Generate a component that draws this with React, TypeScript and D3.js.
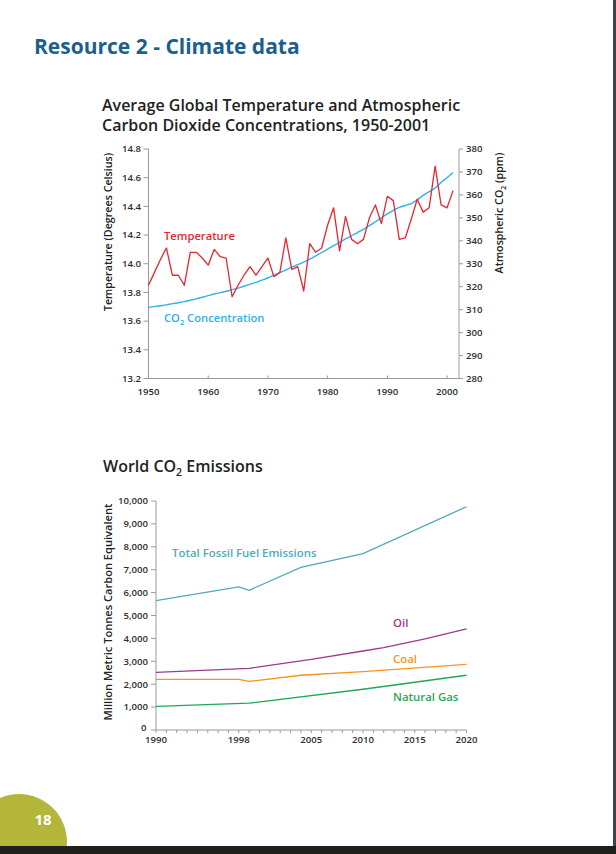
import React from 'react';
import * as d3 from 'd3';

// ---------- Data: chart 1 ----------
const YEARS = [
  1950, 1951, 1952, 1953, 1954, 1955, 1956, 1957, 1958, 1959,
  1960, 1961, 1962, 1963, 1964, 1965, 1966, 1967, 1968, 1969,
  1970, 1971, 1972, 1973, 1974, 1975, 1976, 1977, 1978, 1979,
  1980, 1981, 1982, 1983, 1984, 1985, 1986, 1987, 1988, 1989,
  1990, 1991, 1992, 1993, 1994, 1995, 1996, 1997, 1998, 1999,
  2000, 2001,
];
const TEMPERATURE = [
  13.85, 13.94, 14.03, 14.11, 13.92, 13.92, 13.85, 14.08, 14.08, 14.04,
  13.99, 14.10, 14.05, 14.04, 13.77, 13.85, 13.92, 13.98, 13.92, 13.98,
  14.04, 13.91, 13.94, 14.18, 13.96, 13.98, 13.81, 14.14, 14.08, 14.11,
  14.27, 14.39, 14.09, 14.33, 14.17, 14.14, 14.17, 14.32, 14.41, 14.28,
  14.47, 14.44, 14.17, 14.18, 14.31, 14.45, 14.36, 14.39, 14.68, 14.41,
  14.39, 14.51,
];
const CO2 = [
  311.0, 311.3, 311.7, 312.1, 312.6, 313.0, 313.5, 314.1, 314.7, 315.4,
  316.1, 316.8, 317.4, 318.0, 318.7, 319.4, 320.2, 321.0, 321.9, 322.9,
  323.9, 325.0, 326.1, 327.3, 328.5, 329.6, 330.7, 332.0, 333.4, 334.9,
  336.4, 337.9, 339.3, 340.8, 342.2, 343.6, 345.0, 346.6, 348.3, 350.0,
  351.7, 353.3, 354.6, 355.4, 356.2, 357.8, 359.8, 361.4, 363.0, 365.4,
  367.5, 369.8,
];
const TEMP_TICKS = [13.2, 13.4, 13.6, 13.8, 14.0, 14.2, 14.4, 14.6, 14.8];
const CO2_TICKS = [280, 290, 300, 310, 320, 330, 340, 350, 360, 370, 380];
const TOP_X_TICKS = [1950, 1960, 1970, 1980, 1990, 2000];

// ---------- Data: chart 2 ----------
const TOTAL_YEARS = [1990, 1998, 1999, 2004, 2010, 2020];
const TOTAL_VALUES = [5650, 6250, 6100, 7100, 7700, 9750];
const OIL_YEARS = [1990, 1999, 2005, 2010, 2012, 2016, 2020];
const OIL_VALUES = [2520, 2690, 3080, 3450, 3600, 3980, 4420];
const COAL_YEARS = [1990, 1998, 1999, 2004, 2010, 2020];
const COAL_VALUES = [2210, 2210, 2120, 2390, 2550, 2870];
const GAS_YEARS = [1990, 1999, 2010, 2020];
const GAS_VALUES = [1030, 1170, 1780, 2390];
const EMISSION_TICKS = [0, 1000, 2000, 3000, 4000, 5000, 6000, 7000, 8000, 9000, 10000];
const BOTTOM_X_TICKS = [1990, 1998, 2005, 2010, 2015, 2020];
const BOTTOM_MINOR_TICKS = [
  1990, 1991, 1992, 1993, 1994, 1995, 1996, 1997, 1998, 1999,
  2000, 2001, 2002, 2003, 2004, 2005, 2006, 2007, 2008, 2009,
  2010, 2011, 2012, 2013, 2014, 2015, 2016, 2017, 2018, 2019, 2020,
];

const FONT = "'Open Sans', 'DejaVu Sans', sans-serif";
const AXIS = '#9a9a9a';
const TICK_TEXT = '#2e2e2e';

export default function App() {
  // chart 1 scales
  const x1 = d3.scaleLinear().domain([1950, 2002]).range([148.5, 459]);
  const yT = d3.scaleLinear().domain([13.2, 14.8]).range([378.5, 149]);
  const yC = d3.scaleLinear().domain([280, 380]).range([378.5, 149]);

  const tempLine = d3
    .line<number>()
    .x((_, i) => x1(YEARS[i]))
    .y((d) => yT(d));
  const co2Line = d3
    .line<number>()
    .x((_, i) => x1(YEARS[i]))
    .y((d) => yC(d))
    .curve(d3.curveMonotoneX);

  // chart 2 scales
  const x2 = d3.scaleLinear().domain([1990, 2020]).range([156, 466.5]);
  const y2 = d3.scaleLinear().domain([0, 10000]).range([730, 501]);
  const mk = (years: number[]) =>
    d3
      .line<number>()
      .x((_, i) => x2(years[i]))
      .y((d) => y2(d));

  const fmt = d3.format(',');

  return (
    <svg
      width={616}
      height={854}
      style={{ position: 'absolute', left: 0, top: 0, background: '#ffffff' }}
      fontFamily={FONT}
    >
      <rect x={0} y={0} width={616} height={854} fill="#ffffff" />

      {/* Page title */}
      <text x={34} y={54} fontSize={21} fontWeight={700} fill="#1b5f8e">
        Resource 2 - Climate data
      </text>

      {/* Chart 1 title */}
      <text x={102} y={111} fontSize={16} fontWeight={600} fill="#222">
        Average Global Temperature and Atmospheric
      </text>
      <text x={102} y={131} fontSize={16} fontWeight={600} fill="#222">
        Carbon Dioxide Concentrations, 1950-2001
      </text>

      {/* Chart 1 axes */}
      <g stroke={AXIS} strokeWidth={1} fill="none">
        <line x1={x1.range()[0]} x2={x1.range()[0]} y1={yT.range()[1]} y2={yT.range()[0]} />
        <line x1={x1.range()[1]} x2={x1.range()[1]} y1={yT.range()[1]} y2={yT.range()[0]} />
        <line x1={x1.range()[0]} x2={x1.range()[1]} y1={yT.range()[0]} y2={yT.range()[0]} />
        {TEMP_TICKS.map((t) => (
          <line key={'lt' + t} x1={x1.range()[0] - 5} x2={x1.range()[0]} y1={yT(t)} y2={yT(t)} />
        ))}
        {CO2_TICKS.map((t) => (
          <line key={'rt' + t} x1={x1.range()[1]} x2={x1.range()[1] + 4} y1={yC(t)} y2={yC(t)} />
        ))}
        {TOP_X_TICKS.map((t) => (
          <line key={'xt' + t} x1={x1(t)} x2={x1(t)} y1={yT.range()[0]} y2={yT.range()[0] - 3} />
        ))}
      </g>
      <g fontSize={9.6} fontWeight={600} fill={TICK_TEXT}>
        {TEMP_TICKS.map((t) => (
          <text key={'ll' + t} x={141} y={yT(t)} dy="0.35em" textAnchor="end">
            {t.toFixed(1)}
          </text>
        ))}
        {CO2_TICKS.map((t) => (
          <text key={'rl' + t} x={466} y={yC(t)} dy="0.35em" textAnchor="start">
            {t}
          </text>
        ))}
        {TOP_X_TICKS.map((t) => (
          <text key={'xl' + t} x={x1(t)} y={395} textAnchor="middle">
            {t}
          </text>
        ))}
      </g>
      <text
        transform="translate(112,232) rotate(-90)"
        textAnchor="middle"
        fontSize={10.7}
        fontWeight={600}
        fill="#222"
      >
        Temperature (Degrees Celsius)
      </text>
      <text
        transform="translate(503,213) rotate(-90)"
        textAnchor="middle"
        fontSize={10.7}
        fontWeight={600}
        fill="#222"
      >
        Atmospheric CO<tspan fontSize={7} dy={3}>2</tspan>
        <tspan dy={-3}> (ppm)</tspan>
      </text>

      {/* Chart 1 lines */}
      <path d={co2Line(CO2) || ''} fill="none" stroke="#2eb1ea" strokeWidth={1.4} />
      <path d={tempLine(TEMPERATURE) || ''} fill="none" stroke="#e8262f" strokeWidth={1.3} strokeLinejoin="round" />
      <text x={164} y={240} fontSize={11.2} fontWeight={600} fill="#e8262f">
        Temperature
      </text>
      <text x={164} y={322} fontSize={11.2} fontWeight={600} fill="#2eb1ea">
        CO<tspan fontSize={7.5} dy={3}>2</tspan>
        <tspan dy={-3}> Concentration</tspan>
      </text>

      {/* Chart 2 title */}
      <text x={103} y={472} fontSize={16} fontWeight={600} fill="#222">
        World CO<tspan fontSize={10.5} dy={4}>2</tspan>
        <tspan dy={-4}> Emissions</tspan>
      </text>

      {/* Chart 2 axes */}
      <g stroke={AXIS} strokeWidth={1} fill="none">
        <line x1={x2.range()[0]} x2={x2.range()[0]} y1={y2.range()[1]} y2={y2.range()[0]} />
        <line x1={x2.range()[0]} x2={x2.range()[1]} y1={y2.range()[0]} y2={y2.range()[0]} />
        {EMISSION_TICKS.map((t) => (
          <line key={'et' + t} x1={x2.range()[0] - 5} x2={x2.range()[0]} y1={y2(t)} y2={y2(t)} />
        ))}
        {BOTTOM_MINOR_TICKS.map((t) => (
          <line key={'mt' + t} x1={x2(t)} x2={x2(t)} y1={y2.range()[0]} y2={y2.range()[0] + 3} />
        ))}
      </g>
      <g fontSize={9.6} fontWeight={600} fill={TICK_TEXT}>
        {EMISSION_TICKS.map((t) => (
          <text
            key={'el' + t}
            x={t === 0 ? 146.5 : 148}
            y={y2(t) - (t === 0 ? 2.5 : 0)}
            dy="0.35em"
            textAnchor="end"
          >
            {fmt(t)}
          </text>
        ))}
        {BOTTOM_X_TICKS.map((t) => (
          <text key={'bl' + t} x={x2(t)} y={743} textAnchor="middle">
            {t}
          </text>
        ))}
      </g>
      <text
        transform="translate(112,612) rotate(-90)"
        textAnchor="middle"
        fontSize={11.1}
        fontWeight={600}
        fill="#222"
      >
        Million Metric Tonnes Carbon Equivalent
      </text>

      {/* Chart 2 lines */}
      <path d={mk(TOTAL_YEARS)(TOTAL_VALUES) || ''} fill="none" stroke="#4eabb8" strokeWidth={1.3} />
      <path d={mk(OIL_YEARS)(OIL_VALUES) || ''} fill="none" stroke="#9c3b8d" strokeWidth={1.3} />
      <path d={mk(COAL_YEARS)(COAL_VALUES) || ''} fill="none" stroke="#f7941d" strokeWidth={1.3} />
      <path d={mk(GAS_YEARS)(GAS_VALUES) || ''} fill="none" stroke="#1fa757" strokeWidth={1.3} />
      <g fontSize={11.4} fontWeight={600}>
        <text x={172} y={557} fill="#4eabb8">Total Fossil Fuel Emissions</text>
        <text x={393} y={627} fill="#9c3b8d">Oil</text>
        <text x={393} y={663} fill="#f7941d">Coal</text>
        <text x={393} y={701} fill="#1fa757">Natural Gas</text>
      </g>

      {/* Page decorations */}
      <circle cx={19} cy={842} r={48} fill="#b4b53b" />
      <text x={43} y={825} fontSize={15} fontWeight={700} fill="#ffffff" textAnchor="middle">
        18
      </text>
      <rect x={613} y={0} width={3} height={854} fill="#3d4347" />
      <rect x={0} y={846} width={616} height={8} fill="#1e1f1c" />
    </svg>
  );
}
